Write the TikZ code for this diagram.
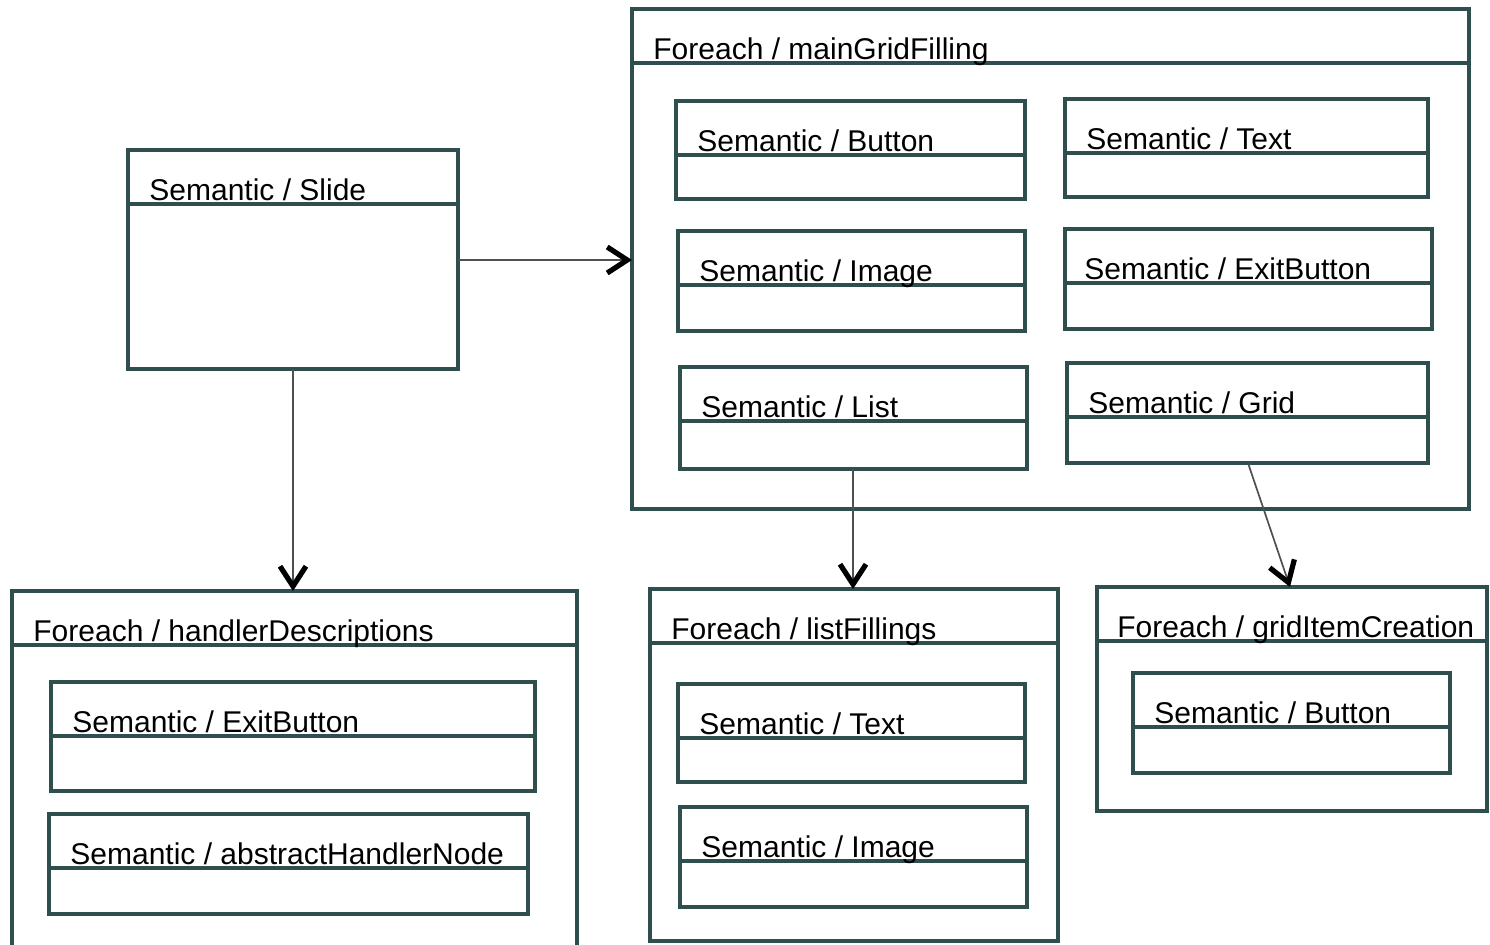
\documentclass[tikz,border=0pt]{standalone}
\usepackage{fontspec}
\setmainfont{Liberation Sans}
\usetikzlibrary{calc,positioning,fit,arrows.meta}

\definecolor{slate}{RGB}{47,79,79}
\definecolor{wire}{RGB}{80,80,80}

\tikzset{
  box/.style={draw=slate, line width=1.7pt, inner sep=0pt, outer sep=0pt, fill=white},
  title/.style={anchor=base west, inner sep=0pt, font=\fontsize{15}{18}\selectfont},
  link/.style={draw=wire, line width=0.85pt,
    -{Straight Barb[length=10pt,width=13pt,line width=2.6pt,color=black]}}
}

\begin{document}
\begin{tikzpicture}[x=0.5pt,y=-0.5pt]
\useasboundingbox (0,0) rectangle (1490,944);

  % outer frames
  \node[box, fit={(128,150) (458,369)}] (slide) {};
  \node[box, fit={(632,9) (1469,509)}] (main) {};
  \node[box, fit={(12,591) (577,960)}] (handler) {};
  \node[box, fit={(650,589) (1058,941)}] (listf) {};
  \node[box, fit={(1097,587) (1487,811)}] (gridf) {};

  % inner classes
  \node[box, fit={(676,101) (1025,199)}] (button) {};
  \node[box, fit={(1065,99) (1428,197)}] (text) {};
  \node[box, fit={(678,231) (1025,331)}] (image) {};
  \node[box, fit={(1065,229) (1432,329)}] (exit) {};
  \node[box, fit={(680,367) (1027,469)}] (list) {};
  \node[box, fit={(1067,363) (1428,463)}] (grid) {};
  \node[box, fit={(51,682) (535,791)}] (hexit) {};
  \node[box, fit={(49,814) (528,914)}] (hnode) {};
  \node[box, fit={(678,684) (1025,782)}] (ltext) {};
  \node[box, fit={(680,807) (1027,907)}] (limage) {};
  \node[box, fit={(1133,673) (1450,773)}] (gbutton) {};

  % header lines
  \foreach \n in {slide,main,handler,listf,gridf,button,text,image,exit,list,grid,hexit,hnode,ltext,limage,gbutton}
    \draw[draw=slate, line width=1.7pt] ($(\n.north west)+(0,54)$) -- ($(\n.north east)+(0,54)$);

  % titles
  \node[title] (slide-t) at ($(slide.north west)+(21,50)$) {Semantic / Slide};
  \node[title] (main-t) at ($(main.north west)+(21,50)$) {Foreach / mainGridFilling};
  \node[title] (handler-t) at ($(handler.north west)+(21,50)$) {Foreach / handlerDescriptions};
  \node[title] (listf-t) at ($(listf.north west)+(21,50)$) {Foreach / listFillings};
  \node[title] (gridf-t) at ($(gridf.north west)+(20,50)$) {Foreach / gridItemCreation};
  \node[title] (button-t) at ($(button.north west)+(21,50)$) {Semantic / Button};
  \node[title] (text-t) at ($(text.north west)+(21,50)$) {Semantic / Text};
  \node[title] (image-t) at ($(image.north west)+(21,50)$) {Semantic / Image};
  \node[title] (exit-t) at ($(exit.north west)+(19,50)$) {Semantic / ExitButton};
  \node[title] (list-t) at ($(list.north west)+(21,50)$) {Semantic / List};
  \node[title] (grid-t) at ($(grid.north west)+(21,50)$) {Semantic / Grid};
  \node[title] (hexit-t) at ($(hexit.north west)+(21,50)$) {Semantic / ExitButton};
  \node[title] (hnode-t) at ($(hnode.north west)+(21,50)$) {Semantic / abstractHandlerNode};
  \node[title] (ltext-t) at ($(ltext.north west)+(21,50)$) {Semantic / Text};
  \node[title] (limage-t) at ($(limage.north west)+(21,50)$) {Semantic / Image};
  \node[title] (gbutton-t) at ($(gbutton.north west)+(21,50)$) {Semantic / Button};

  % connectors
  \coordinate (s-east) at (slide.east |- 0,260);
  \draw[link] (s-east) -- (main.west |- s-east);
  \draw[link] (slide.south) -- (slide.south |- handler.north);
  \draw[link] (list.south -| 853,0) -- (listf.north -| 853,0);
  \draw[link] (grid.south -| 1248,0) -- (gridf.north -| 1290,0);

\end{tikzpicture}
\end{document}
